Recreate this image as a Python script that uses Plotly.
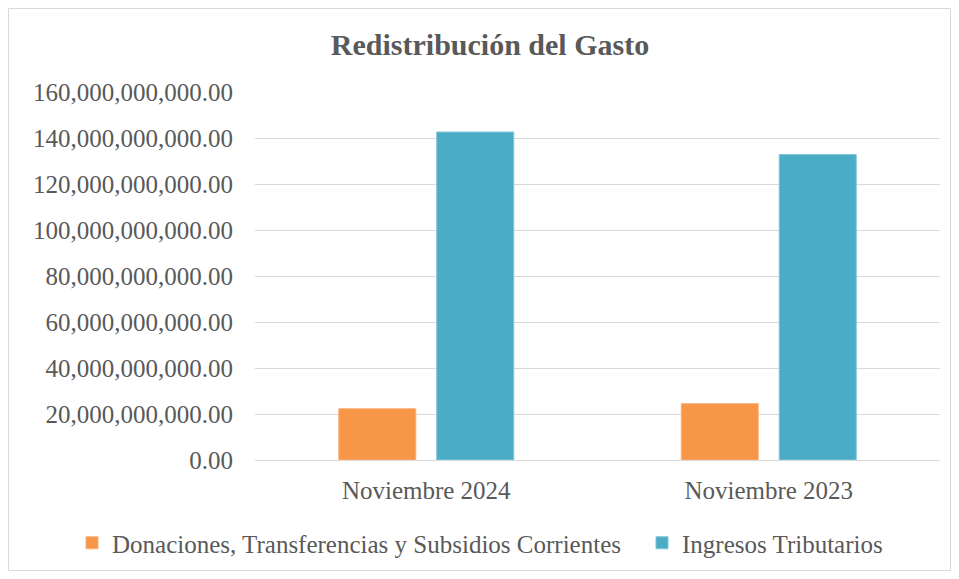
import plotly.graph_objects as go

categories = ["Noviembre 2024", "Noviembre 2023"]
donaciones = [22.3e9, 24.5e9]
tributarios = [142.6e9, 132.8e9]
series_names = ["Donaciones, Transferencias y Subsidios Corrientes", "Ingresos Tributarios"]
y_ticks = [i * 20e9 for i in range(9)]

font_family = "Liberation Serif, DejaVu Serif, serif"
text_color = "#595959"

fig = go.Figure()
fig.add_trace(go.Bar(x=categories, y=donaciones, name=series_names[0], legend="legend",
                     marker=dict(color="#F79646", line=dict(color="#FAB07A", width=1))))
fig.add_trace(go.Bar(x=categories, y=tributarios, name=series_names[1], legend="legend2",
                     marker=dict(color="#4BACC6", line=dict(color="#7FC4D8", width=1))))

# the page body keeps its default 8px margin, so the figure is 16px smaller
W, H = 943, 563
ml, mr, mt, mb = 247, 11, 84, 111
pw, ph = W - ml - mr, H - mt - mb

# light frame around the whole chart
fig.add_shape(type="rect", xref="paper", yref="paper",
              x0=(0.5 - ml) / pw, x1=(W - 0.5 - ml) / pw,
              y0=(H - mb - (H - 0.5)) / ph, y1=(H - mb - 0.5) / ph,
              line=dict(color="#D9D9D9", width=1), fillcolor="rgba(0,0,0,0)", layer="below")

legend_style = dict(orientation="h", xref="container", yref="container", xanchor="left",
                    y=1 - 535 / H, yanchor="middle", font=dict(size=25, color=text_color),
                    itemwidth=30, bgcolor="rgba(0,0,0,0)")

fig.update_layout(
    width=W, height=H,
    margin=dict(l=ml, r=mr, t=mt, b=mb, autoexpand=False),
    paper_bgcolor="white", plot_bgcolor="white",
    font=dict(family=font_family, color=text_color, size=25),
    title=dict(text="<b>Redistribución del Gasto</b>", x=482 / W, xanchor="center",
               y=1 - 36 / H, yanchor="middle", font=dict(size=30, color=text_color)),
    barmode="group", bargap=0.428, bargroupgap=0.214,
    showlegend=True,
    legend=dict(x=64 / W, **legend_style),
    legend2=dict(x=634 / W, **legend_style),
    xaxis=dict(showgrid=False, showline=True, linecolor="#D9D9D9", linewidth=1,
               ticks="", tickfont=dict(size=25, color=text_color)),
    yaxis=dict(range=[0, 160e9], tickvals=y_ticks, tickformat=",.2f",
               showgrid=True, gridcolor="#D9D9D9", gridwidth=1, zeroline=False,
               showline=False, ticks="", tickfont=dict(size=25, color=text_color)),
)
fig.update_xaxes(ticklabelstandoff=8)
fig.update_yaxes(ticklabelstandoff=21)

fig.write_html("out.html")
